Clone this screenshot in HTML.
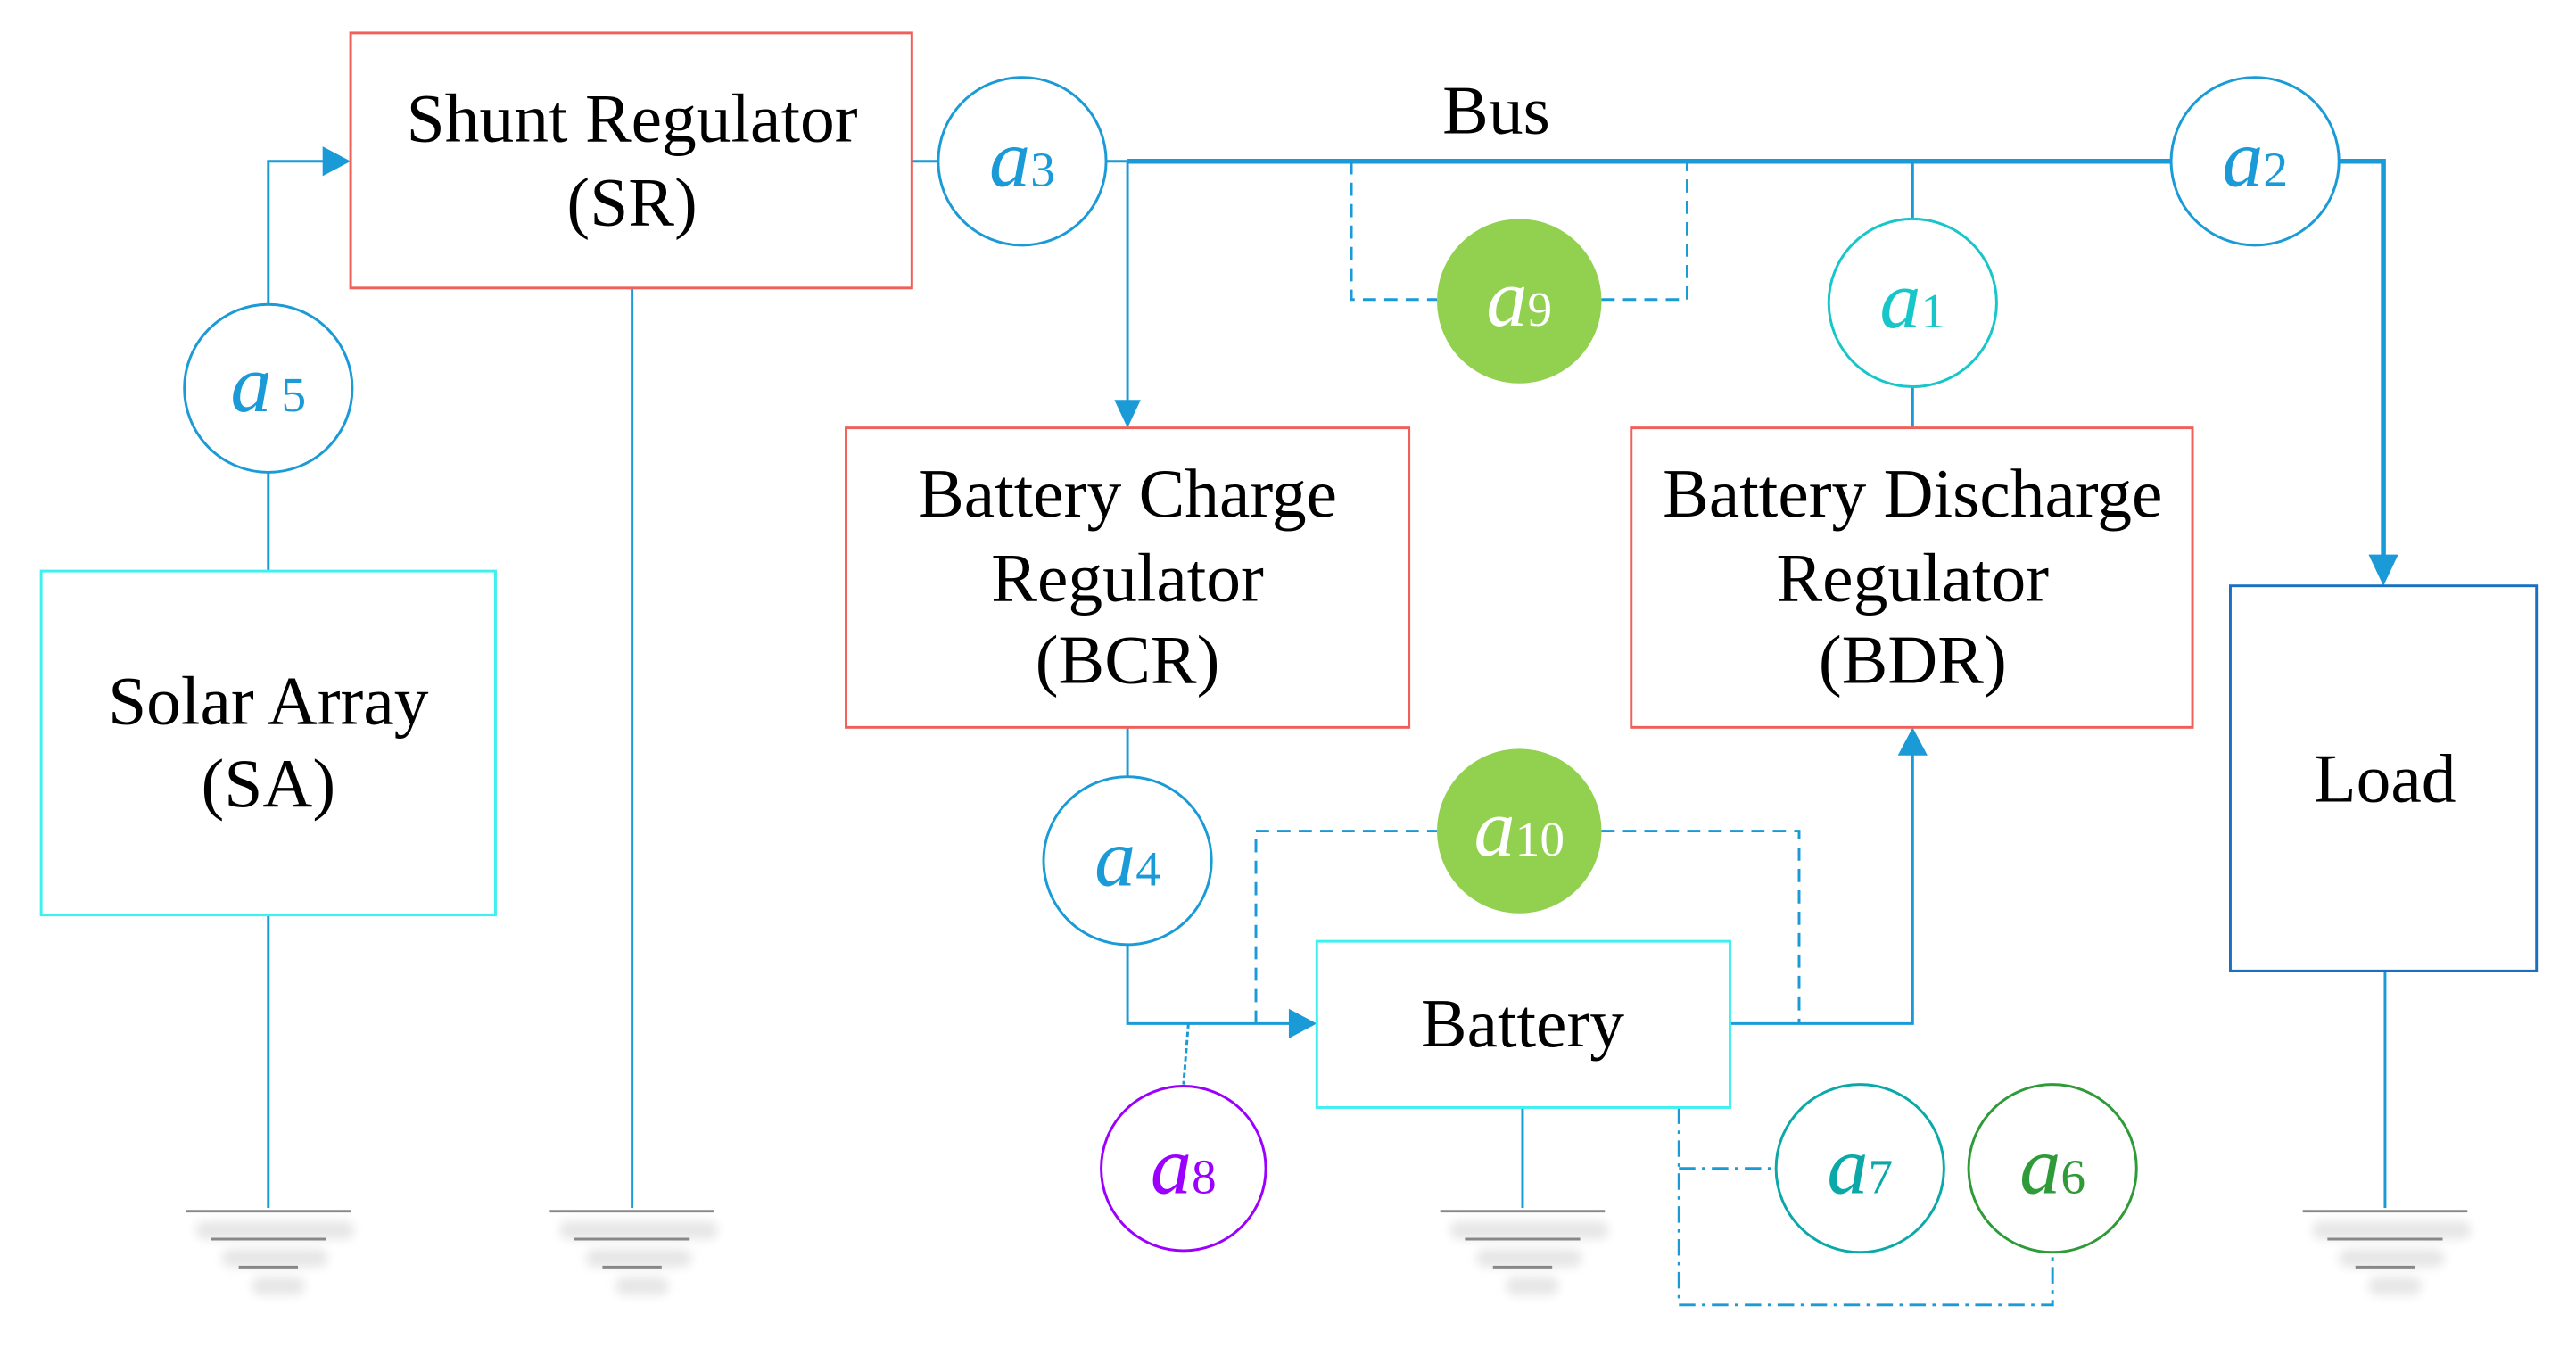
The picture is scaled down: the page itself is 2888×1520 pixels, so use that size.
<!DOCTYPE html>
<html><head><meta charset="utf-8"><style>
html,body{margin:0;padding:0;background:#fff;}
svg{display:block;}
text{font-family:"Liberation Serif",serif;}
.t{font-size:42px;fill:#000;text-anchor:middle;}
.a{font-style:italic;font-size:50px;}
.s{font-size:30px;font-style:normal;}
</style></head><body>
<svg width="2888" height="1520" viewBox="0 0 1565 824" preserveAspectRatio="none" xmlns="http://www.w3.org/2000/svg">
<defs>
<filter id="bl" x="-20%" y="-200%" width="140%" height="500%"><feGaussianBlur stdDeviation="3"/></filter>
<g id="gnd">
  <rect x="-44" y="6" width="96" height="11" rx="5" fill="#e6e6e6" filter="url(#bl)"/>
  <rect x="-28" y="23" width="64" height="11" rx="5" fill="#e6e6e6" filter="url(#bl)"/>
  <rect x="-10" y="40" width="32" height="11" rx="5" fill="#e6e6e6" filter="url(#bl)"/>
  <line x1="-50" y1="0" x2="50" y2="0" stroke="#888" stroke-width="1.6"/>
  <line x1="-35" y1="17" x2="35" y2="17" stroke="#888" stroke-width="1.6"/>
  <line x1="-18" y1="34" x2="18" y2="34" stroke="#888" stroke-width="1.6"/>
</g>
</defs>
<g fill="none" stroke="#1a9ad6" stroke-width="1.6">
  <!-- SA to SR -->
  <polyline points="163,347 163,287"/>
  <polyline points="163,185 163,98 200,98"/>
  <line x1="163" y1="556" x2="163" y2="734"/>
  <line x1="384" y1="175" x2="384" y2="734"/>
  <line x1="554" y1="98" x2="570" y2="98"/>
  <line x1="672" y1="98" x2="685" y2="98"/>
  <line x1="685" y1="98" x2="685" y2="246"/>
  <line x1="1162" y1="98" x2="1162" y2="133"/>
  <line x1="1162" y1="235" x2="1162" y2="260"/>
  <line x1="685" y1="442" x2="685" y2="472"/>
  <polyline points="685,574 685,622 786,622"/>
  <polyline points="1051,622 1162,622 1162,457"/>
  <line x1="925" y1="673" x2="925" y2="734"/>
  <line x1="1449" y1="590" x2="1449" y2="734"/>
  <!-- dashed -->
  <polyline points="821,98 821,182 873,182" stroke-dasharray="8,5"/>
  <polyline points="973,182 1025,182 1025,98" stroke-dasharray="8,5"/>
  <polyline points="763,622 763,505 873,505" stroke-dasharray="8,5"/>
  <polyline points="973,505 1093,505 1093,622" stroke-dasharray="8,5"/>
  <line x1="722" y1="622" x2="719" y2="659" stroke-dasharray="3,2"/>
  <!-- dash-dot -->
  <polyline points="1020,673 1020,793 1247,793 1247,761" stroke-dasharray="10,4,2,4"/>
  <line x1="1020" y1="710" x2="1079" y2="710" stroke-dasharray="10,4,2,4"/>
</g>
<!-- bus thick -->
<polyline points="685,98 1320,98" fill="none" stroke="#1a9ad6" stroke-width="3"/>
<polyline points="1421,98 1448,98 1448,340" fill="none" stroke="#1a9ad6" stroke-width="3"/>
<!-- arrowheads -->
<g fill="#1a9ad6">
  <polygon points="213,98 196,89 196,107"/>
  <polygon points="685,260 677,243 693,243"/>
  <polygon points="800,622 783,613 783,631"/>
  <polygon points="1162,442 1153,459 1171,459"/>
  <polygon points="1448,356 1439,337 1457,337"/>
</g>
<!-- boxes -->
<g fill="none" stroke-width="1.6">
  <rect x="213" y="20" width="341" height="155" stroke="#f0605a"/>
  <rect x="514" y="260" width="342" height="182" stroke="#f0605a"/>
  <rect x="991" y="260" width="341" height="182" stroke="#f0605a"/>
  <rect x="25" y="347" width="276" height="209" stroke="#3ef0f0"/>
  <rect x="800" y="572" width="251" height="101" stroke="#3ef0f0"/>
  <rect x="1355" y="356" width="186" height="234" stroke="#1a6fc0"/>
</g>
<text class="t" x="384" y="86">Shunt Regulator</text>
<text class="t" x="384" y="137">(SR)</text>
<text class="t" x="685" y="314">Battery Charge</text>
<text class="t" x="685" y="365">Regulator</text>
<text class="t" x="685" y="415">(BCR)</text>
<text class="t" x="1162" y="314">Battery Discharge</text>
<text class="t" x="1162" y="365">Regulator</text>
<text class="t" x="1162" y="415">(BDR)</text>
<text class="t" x="163" y="440">Solar Array</text>
<text class="t" x="163" y="490">(SA)</text>
<text class="t" x="925" y="636">Battery</text>
<text class="t" x="1449" y="487">Load</text>
<text class="t" x="909" y="81">Bus</text>
<!-- circles -->
<g fill="#fff" stroke-width="1.6">
  <circle cx="163" cy="236" r="51" stroke="#1a9ad6"/>
  <circle cx="621" cy="98" r="51" stroke="#1a9ad6"/>
  <circle cx="1370" cy="98" r="51" stroke="#1a9ad6"/>
  <circle cx="1162" cy="184" r="51" stroke="#17c6c8"/>
  <circle cx="685" cy="523" r="51" stroke="#1a9ad6"/>
  <circle cx="719" cy="710" r="50" stroke="#9b00ff"/>
  <circle cx="1130" cy="710" r="51" stroke="#0aa8a8"/>
  <circle cx="1247" cy="710" r="51" stroke="#2e9a38"/>
</g>
<circle cx="923" cy="183" r="50" fill="#92d050"/>
<circle cx="923" cy="505" r="50" fill="#92d050"/>
<g class="a" text-anchor="middle">
  <text x="163" y="250" fill="#1a9ad6" class="a">a<tspan class="s" dx="6">5</tspan></text>
  <text x="621" y="113" fill="#1a9ad6" class="a">a<tspan class="s">3</tspan></text>
  <text x="1370" y="113" fill="#1a9ad6" class="a">a<tspan class="s">2</tspan></text>
  <text x="1162" y="199" fill="#17c6c8" class="a">a<tspan class="s">1</tspan></text>
  <text x="685" y="538" fill="#1a9ad6" class="a">a<tspan class="s">4</tspan></text>
  <text x="719" y="725" fill="#9b00ff" class="a">a<tspan class="s">8</tspan></text>
  <text x="1130" y="725" fill="#0aa8a8" class="a">a<tspan class="s">7</tspan></text>
  <text x="1247" y="725" fill="#2e9a38" class="a">a<tspan class="s">6</tspan></text>
  <text x="923" y="198" fill="#fff" class="a">a<tspan class="s">9</tspan></text>
  <text x="923" y="520" fill="#fff" class="a">a<tspan class="s">10</tspan></text>
</g>
<use href="#gnd" x="163" y="736"/>
<use href="#gnd" x="384" y="736"/>
<use href="#gnd" x="925" y="736"/>
<use href="#gnd" x="1449" y="736"/>
</svg>
</body></html>
